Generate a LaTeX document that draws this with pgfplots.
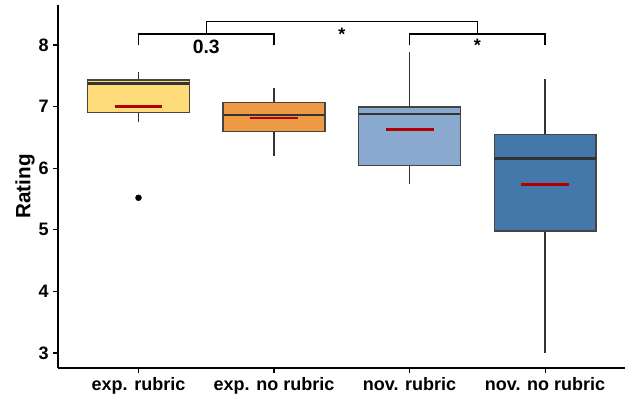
\documentclass[border=0pt]{standalone}
\usepackage{pgfplots}
\pgfplotsset{compat=1.18}
\usepgfplotslibrary{statistics}
\usepackage{fontspec}
\setmainfont{Liberation Sans}
\definecolor{c1}{HTML}{FEDC7A}
\definecolor{c2}{HTML}{EE9A44}
\definecolor{c3}{HTML}{89AACE}
\definecolor{c4}{HTML}{4477AA}
\definecolor{boxgray}{HTML}{444444}
\definecolor{medgray}{HTML}{333333}
\definecolor{meanred}{HTML}{B20000}
\begin{document}
\begin{tikzpicture}
\begin{axis}[
 scale only axis, width=425.25pt, height=272.25pt,
 xmin=0.406, xmax=4.59, ymin=2.756, ymax=8.65,
 axis lines=left, axis line style={-, line width=0.8pt, black},
 tick align=outside, major tick length=3.5pt, tick style={line width=0.8pt, black},
 xtick={1,2,3,4}, xticklabels={exp. rubric, exp. no rubric, nov. rubric, nov. no rubric},
 ytick={3,4,5,6,7,8},
 ticklabel style={font=\fontsize{13.5}{16}\selectfont\bfseries},
 /pgf/number format/assume math mode=true,
 ylabel={Rating},
 ylabel style={font=\fontsize{15.5}{18}\selectfont\bfseries, at={(axis description cs:-0.058,0.5)}, anchor=center},
 clip=false,
 boxplot/draw direction=y,
 boxplot/every median/.style={line width=2.1pt, draw=medgray},
 boxplot/every whisker/.style={line width=0.9pt, draw=medgray},
 boxplot/every box/.style={line width=1.1pt, draw=boxgray},
]
\addplot[boxplot prepared={draw position=1, median=7.375, upper quartile=7.43, lower quartile=6.907, upper whisker=7.557, lower whisker=6.755, box extend=0.75, whisker extend=0}, fill=c1, mark=*, mark size=2.2pt, mark options={draw=black, fill=black}] table[row sep=\\, y index=0] {data\\ 5.52\\};
\addplot[boxplot prepared={draw position=2, median=6.864, upper quartile=7.064, lower quartile=6.60, upper whisker=7.31, lower whisker=6.20, box extend=0.75, whisker extend=0}, fill=c2] coordinates {};
\addplot[boxplot prepared={draw position=3, median=6.88, upper quartile=6.99, lower quartile=6.04, upper whisker=7.89, lower whisker=5.74, box extend=0.75, whisker extend=0}, fill=c3] coordinates {};
\addplot[boxplot prepared={draw position=4, median=6.155, upper quartile=6.55, lower quartile=4.98, upper whisker=7.45, lower whisker=3.0, box extend=0.75, whisker extend=0}, fill=c4] coordinates {};
% means
\addplot[draw=meanred, line width=2.2pt] coordinates {(0.823,7.005) (1.177,7.005)};
\addplot[draw=meanred, line width=2.2pt] coordinates {(1.823,6.815) (2.177,6.815)};
\addplot[draw=meanred, line width=2.2pt] coordinates {(2.823,6.63) (3.177,6.63)};
\addplot[draw=meanred, line width=2.2pt] coordinates {(3.823,5.73) (4.177,5.73)};
% brackets
\addplot[black, line width=0.9pt] coordinates {(1,7.995) (1,8.18) (2,8.18) (2,7.995)};
\addplot[black, line width=0.9pt] coordinates {(3,7.995) (3,8.18) (4,8.18) (4,7.995)};
\addplot[black, line width=0.9pt] coordinates {(1.5,8.18) (1.5,8.385) (3.5,8.385) (3.5,8.18)};
\node[font=\fontsize{14.5}{17}\selectfont\bfseries, anchor=base, inner sep=0pt] at (axis cs:1.5,7.87) {0.3};
\node[font=\fontsize{13.5}{16}\selectfont\bfseries, anchor=base, inner sep=0pt] at (axis cs:2.5,8.08) {*};
\node[font=\fontsize{13.5}{16}\selectfont\bfseries, anchor=base, inner sep=0pt] at (axis cs:3.5,7.89) {*};
\end{axis}
\pgfresetboundingbox
\path ([shift={(-43.5pt,-24pt)}]current axis.south west) rectangle ([shift={(4.5pt,3.75pt)}]current axis.north east);
\end{tikzpicture}
\end{document}
